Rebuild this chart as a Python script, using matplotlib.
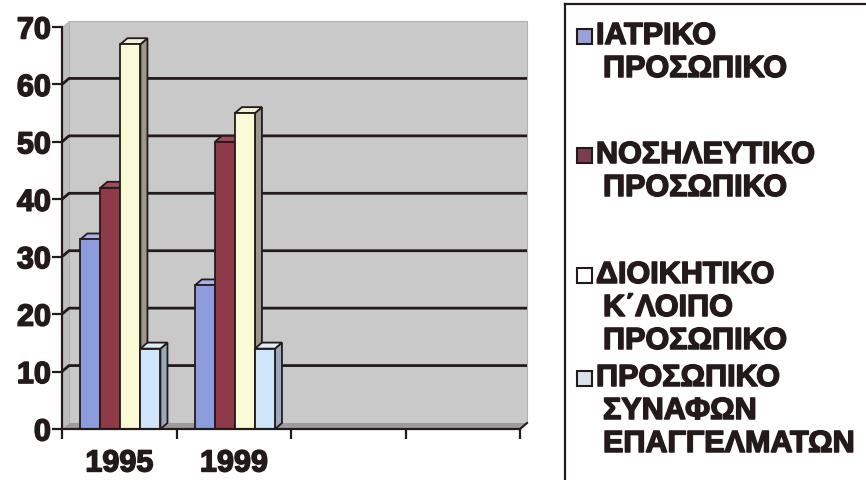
import numpy as np
import matplotlib.pyplot as plt
import matplotlib.patheffects as pe
from matplotlib.patches import Rectangle, Polygon
from matplotlib.lines import Line2D

plt.rcParams['font.family'] = ['Liberation Sans', 'DejaVu Sans']
plt.rcParams['font.weight'] = 'bold'

# data
years = ['1995', '1999']
iatriko = [33, 25]
nosileftiko = [42, 50]
dioikitiko = [67, 55]
synafon = [14, 14]
series = [iatriko, nosileftiko, dioikitiko, synafon]

legend_lines = [
    ['ΙΑΤΡΙΚΟ', 'ΠΡΟΣΩΠΙΚΟ'],
    ['ΝΟΣΗΛΕΥΤΙΚΟ', 'ΠΡΟΣΩΠΙΚΟ'],
    ['ΔΙΟΙΚΗΤΙΚΟ', 'Κ΄ΛΟΙΠΟ', 'ΠΡΟΣΩΠΙΚΟ'],
    ['ΠΡΟΣΩΠΙΚΟ', 'ΣΥΝΑΦΩΝ', 'ΕΠΑΓΓΕΛΜΑΤΩΝ'],
]
legend_y = [37, 156, 276, 379]   # pixel row of first line of each entry

front = ['#8c9cdc', '#8e3a48', '#fbfbd8', '#cfe6fa']
top = ['#a7b3e6', '#a04c5a', '#f2f2dc', '#e0eefa']
side = ['#6d7cb6', '#6a2a35', '#9c988c', '#98aabb']
marker_col = ['#9aa0d8', '#7a3e50', '#ffffff', '#d8e2ea']
ink = '#241a1a'
thick = [pe.withStroke(linewidth=1.1, foreground=ink)]

W, H = 866, 481
fig = plt.figure(figsize=(W / 100, H / 100), dpi=100)

# axes in pixel terms
x0, x1, ytop, ybot = 62, 520, 28, 430
ax = fig.add_axes([x0 / W, 1 - ybot / H, (x1 - x0) / W, (ybot - ytop) / H])
ax.set_xlim(0, 4)
ax.set_ylim(0, 70)
ax.set_facecolor('none')

# 3D depth in data units
dxp, dyp = 7, 6
dx = dxp * 4 / (x1 - x0)
dy = dyp * 70 / (ybot - ytop)

# walls and floor
wall_col = '#c9c9c9'
ax.add_patch(Rectangle((dx, dy), 4, 70, facecolor=wall_col, edgecolor='#b0b0b0',
                       lw=0.8, zorder=0.3, clip_on=False))
ax.add_patch(Polygon([(0, 0), (dx, dy), (dx, 70 + dy), (0, 70)], closed=True,
                     facecolor='#bdbdbd', edgecolor='none', zorder=0.3, clip_on=False))
ax.add_patch(Polygon([(0, 0), (dx, dy), (4 + dx, dy), (4, 0)], closed=True,
                     facecolor='#9c9c9c', edgecolor='none', zorder=0.35, clip_on=False))

for v in range(10, 70, 10):
    ax.plot([0, dx, 4 + dx], [v, v + dy, v + dy], color=ink, lw=2,
            zorder=0.5, clip_on=False, solid_capstyle='butt')
ax.plot([4, 4 + dx], [0, dy], color=ink, lw=1.5, zorder=0.5, clip_on=False)

# bars
bw = 0.175
start = 0.16
z = 2
for g in range(len(years)):
    for i, vals in enumerate(series):
        x = g + start + i * bw
        h = vals[g]
        ax.add_patch(Polygon([(x + bw, 0), (x + bw + dx, dy), (x + bw + dx, h + dy), (x + bw, h)],
                             closed=True, facecolor=side[i], edgecolor=ink, lw=1.3,
                             zorder=z, clip_on=False))
        ax.add_patch(Polygon([(x, h), (x + dx, h + dy), (x + bw + dx, h + dy), (x + bw, h)],
                             closed=True, facecolor=top[i], edgecolor=ink, lw=1.3,
                             zorder=z, clip_on=False))
        ax.bar(x, h, width=bw, align='edge', color=front[i], edgecolor=ink,
               lw=1.3, zorder=z + 0.1)
        z += 1

# axes styling
for s in ['top', 'right']:
    ax.spines[s].set_visible(False)
for s in ['left', 'bottom']:
    ax.spines[s].set_color(ink)
    ax.spines[s].set_linewidth(1.6)
    ax.spines[s].set_zorder(20)
yt = list(range(0, 71, 10))
ax.set_yticks(yt)
ax.set_yticklabels([str(v) for v in yt], fontsize=22, fontweight='bold', color=ink)
ax.tick_params(axis='y', length=7, width=1.6, color=ink, pad=1)
ax.set_xticks(range(0, 5))
ax.set_xticklabels([])
ax.tick_params(axis='x', which='major', length=7, width=1.6, color=ink)
ax.set_xticks([0.5, 1.5], minor=True)
ax.set_xticklabels(years, minor=True, fontsize=22, fontweight='bold', color=ink)
ax.tick_params(axis='x', which='minor', length=0, pad=14)
for lab in ax.get_yticklabels() + ax.get_xticklabels(minor=True):
    lab.set_path_effects(thick)

# legend drawn by hand
def fx(px):
    return px / W

def fy(py):
    return 1 - py / H

fig.add_artist(Line2D([fx(565), fx(565)], [fy(5), fy(481)], color=ink, lw=1.6))
fig.add_artist(Line2D([fx(565), fx(866)], [fy(5), fy(5)], color=ink, lw=1.6))

line_h = 33
for i, lines in enumerate(legend_lines):
    yc = legend_y[i]
    fig.add_artist(Rectangle((fx(577), fy(yc + 8)), 15 / W, 15 / H,
                             transform=fig.transFigure, facecolor=marker_col[i],
                             edgecolor=ink, lw=1.5))
    fig.text(fx(596), fy(yc), lines[0], fontsize=22, color=ink,
             va='center', ha='left', fontweight='bold', path_effects=thick)
    for k, t in enumerate(lines[1:]):
        fig.text(fx(603), fy(yc + (k + 1) * line_h), t, fontsize=22, color=ink,
                 va='center', ha='left', fontweight='bold', path_effects=thick)

fig.savefig('out.png', dpi=100)
